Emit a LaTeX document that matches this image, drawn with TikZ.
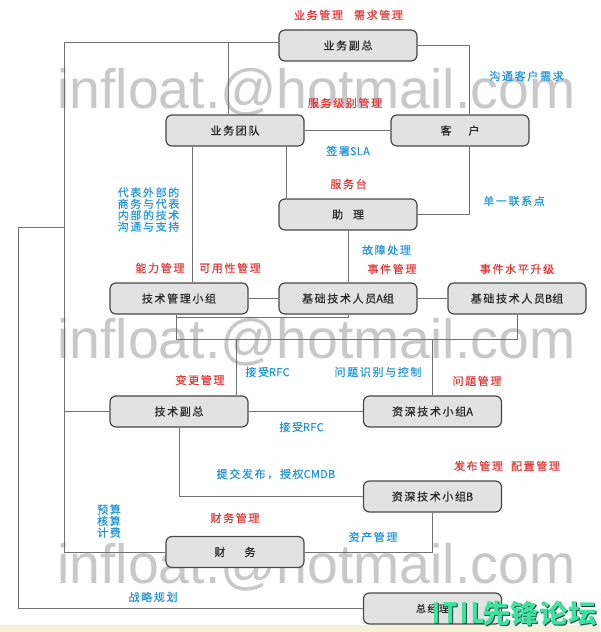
\documentclass[tikz,border=0pt]{standalone}
\usepackage{fontspec}
\setmainfont{Noto Sans CJK SC}[LetterSpace=15,FakeBold=0.5]
\newfontfamily\latfont{Noto Sans CJK SC}[LetterSpace=3,FakeBold=0.5]
\newcommand{\lat}[1]{{\latfont #1}}
\newfontfamily\wmfont{Liberation Sans}
\newfontfamily\itilfont{Noto Sans CJK SC}[LetterSpace=0]
\newfontfamily\itillat{Noto Sans CJK SC}[LetterSpace=12]
\definecolor{labred}{HTML}{E03838}
\definecolor{labblue}{HTML}{2496D8}
\definecolor{boxfill}{HTML}{E2E2E2}
\definecolor{boxline}{HTML}{484848}
\definecolor{wiregray}{HTML}{707070}
\definecolor{wmgray}{HTML}{C8C8C8}
\definecolor{beige}{HTML}{F6F0DA}
\definecolor{itilgreen}{HTML}{3EE2A0}
\definecolor{itildark}{HTML}{1E4A3A}
\begin{document}
\begin{tikzpicture}[x=1pt,y=-1pt,
  box/.style={draw=boxline, fill=boxfill, rounded corners=6pt, line width=1.2pt,
    minimum width=138pt, minimum height=31pt, inner sep=0pt, text=black!85,
    font=\fontsize{11}{12}\selectfont},
  wire/.style={draw=wiregray, line width=1pt},
  rlab/.style={text=labred, inner sep=0pt, font=\fontsize{11}{12}\selectfont},
  blab/.style={text=labblue, inner sep=0pt, font=\fontsize{11}{12}\selectfont},
  wm/.style={text=wmgray, inner sep=0pt, anchor=base west, font=\wmfont\fontsize{55.4}{60}\selectfont},
  itlat/.style={anchor=base west, inner sep=0pt, xscale=0.8, font=\itillat\bfseries\fontsize{28}{30}\selectfont},
  itcjk/.style={anchor=base west, inner sep=0pt, xscale=1.1, font=\itilfont\bfseries\fontsize{26}{28}\selectfont}
]
\useasboundingbox (0,0) rectangle (600,632);
\fill[white] (0,0) rectangle (600,632);
\fill[beige] (0,625) rectangle (600,632);

% watermark
\node[wm] (wm1) at (57,108) {infloat.@hotmail.com};
\node[wm] (wm2) at (57,358) {infloat.@hotmail.com};
\node[wm] (wm3) at (57,583) {infloat.@hotmail.com};

% nodes
\node[box] (vpb)  at (348,45.5)   {业务副总};
\node[box] (team) at (235,130.5)  {业务团队};
\node[box] (cust) at (460,130.5)  {客\hspace{17pt}户};
\node[box] (asst) at (348,214.5)  {助\hspace{10pt}理};
\node[box] (tmg)  at (179,298.5)  {技术管理小组};
\node[box] (ba)   at (348,298.5)  {基础技术人员\lat{A}组};
\node[box] (bb)   at (517,298.5)  {基础技术人员\lat{B}组};
\node[box] (vpt)  at (179,411.5)  {技术副总};
\node[box] (sa)   at (432.5,411.5) {资深技术小组\lat{A}};
\node[box] (sb)   at (432.5,496.5) {资深技术小组\lat{B}};
\node[box] (fin)  at (235,552)    {财\hspace{19pt}务};
\node[box, font=\fontsize{10}{11}\selectfont] (gm) at (432.5,608.5) {总经理};

% helper coordinates
\coordinate (L1) at (64,42);
\coordinate (L2) at (18,227);
\coordinate (J1) at (228,42);
\coordinate (R1) at (469,45.5);
\coordinate (t1) at ([xshift=-43pt]team.south);
\coordinate (t2) at ([xshift=51pt]team.south);
\coordinate (b0) at ([xshift=-3pt]tmg.south);
\coordinate (bus) at (0,339);
\coordinate (bus2) at (0,317);
\coordinate (v1) at (236,339);

% connectors
\draw[wire] ([yshift=3.5pt]vpb.west) -- (L1) |- (fin.west);
\draw[wire] (J1) -- (J1 |- team.north);
\draw[wire] (vpt.west) -- (vpt.west -| L1);
\draw[wire] (L2 -| L1) -- (L2) |- (gm.west);
\draw[wire] (t1) -- (t1 |- tmg.north);
\draw[wire] (t2) -- (t2 |- asst.north);
\draw[wire] (team.east) -- (cust.west);
\draw[wire] (vpb.east) -- (R1) -- (R1 |- cust.north);
\draw[wire] (R1 |- cust.south) |- (asst.east);
\draw[wire] (asst.south) -- (ba.north);
\draw[wire] (tmg.east) -- (ba.west);
\draw[wire] (ba.east) -- (bb.west);
\draw[wire] (b0) |- (bb.south |- bus) -- (bb.south);
\draw[wire] (b0 |- bus2) -| (ba.south);
\draw[wire] (v1) -- (v1 |- vpt.north);
\draw[wire] (sa.north |- bus) -- (sa.north);
\draw[wire] (vpt.east) -- (sa.west);
\draw[wire] (vpt.south) |- (sb.west);
\draw[wire] (fin.east) -| (sb.south);

% labels
\node[rlab] (l1) at (348.5,15) {业务管理\hspace{11pt}需求管理};
\node[blab] (l2) at (526.5,76) {沟通客户需求};
\node[rlab] (l3) at (345,103) {服务级别管理};
\node[blab] (l4) at (348,151) {签署\lat{SLA}};
\node[rlab] (l5) at (348.5,184) {服务台};
\node[blab] (l6) at (514,201) {单一联系点};
\node[blab, align=left, font=\fontsize{11}{11.4}\selectfont] (l7) at (148.5,209.5) {代表外部的\\商务与代表\\内部的技术\\沟通与支持};
\node[rlab] (l8) at (160,268) {能力管理};
\node[rlab] (l9) at (230,268) {可用性管理};
\node[blab] (l10) at (386.5,250) {故障处理};
\node[rlab] (l11) at (392,269) {事件管理};
\node[rlab] (l12) at (517,269) {事件水平升级};
\node[rlab] (l13) at (200,380) {变更管理};
\node[blab] (l14) at (267.5,372) {接受\lat{RFC}};
\node[blab] (l15) at (378,372) {问题识别与控制};
\node[rlab] (l16) at (477,381) {问题管理};
\node[blab] (l17) at (301.5,427) {接受\lat{RFC}};
\node[blab] (l18) at (276,474) {提交发布，授权\lat{CMDB}};
\node[rlab] (l19) at (507,466) {发布管理\hspace{8pt}配置管理};
\node[blab, align=center, font=\fontsize{11}{11.5}\selectfont] (l20) at (109,521) {预算\\核算\\计费};
\node[rlab] (l21) at (235,518) {财务管理};
\node[blab] (l22) at (373,537) {资产管理};
\node[blab] (l23) at (153,597) {战略规划};

% forum mark
\node[itlat, text=itildark] (itls) at (433.8,624) {ITIL};
\node[itlat, text=itilgreen] (itl) at (432.8,623) {ITIL};
\node[itcjk, text=itildark] (itcs) at (483,624) {先锋论坛};
\node[itcjk, text=itilgreen] (itc) at (482,623) {先锋论坛};
\end{tikzpicture}
\end{document}
